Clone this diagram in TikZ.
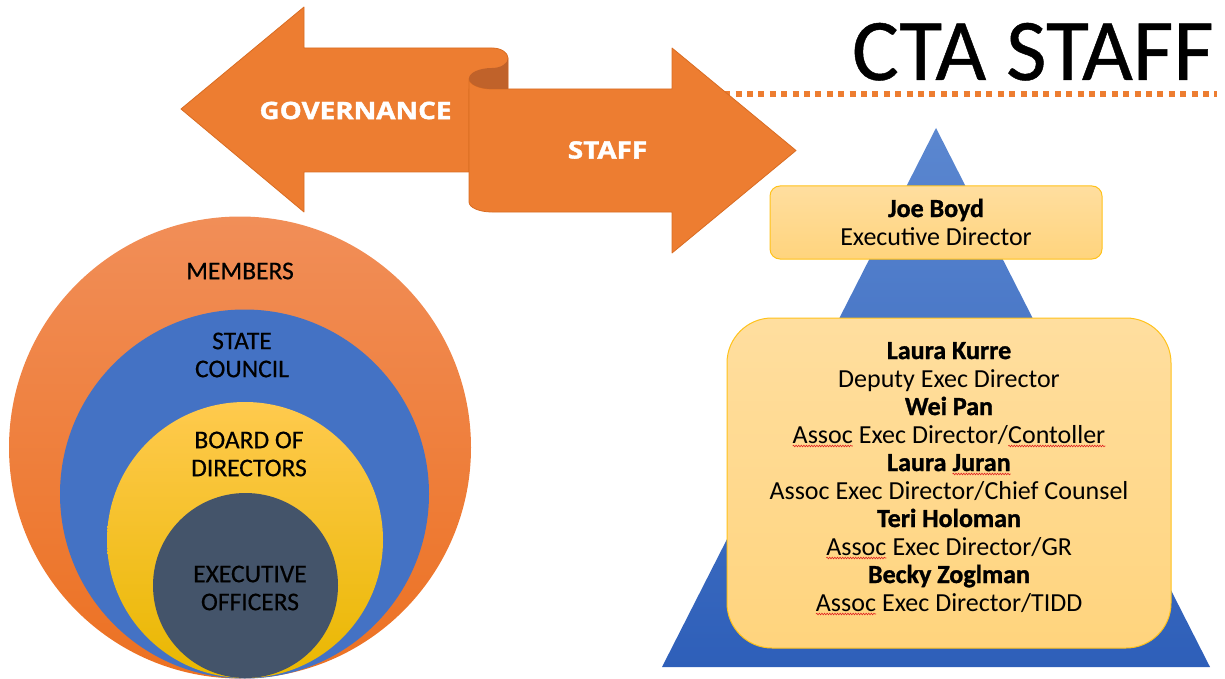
\documentclass[tikz,border=0pt]{standalone}
\usepackage{fontspec}
\setmainfont{Carlito}[BoldFeatures={FakeBold=1.2}]
\newfontfamily\heavyfont{Carlito}[FakeBold=0.5]
\newfontfamily\ribbonfont{Open Sans}[BoldFeatures={FakeBold=1.5}]
\usepackage{tikz}
\usetikzlibrary{decorations.pathmorphing}

\definecolor{ctaorange}{HTML}{ED7D31}
\definecolor{ribbonedge}{HTML}{D96C22}
\definecolor{foldorange}{HTML}{C0622A}
\definecolor{memtop}{HTML}{F18E58}
\definecolor{membot}{HTML}{EC7122}
\definecolor{councilblue}{HTML}{4472C4}
\definecolor{boardtop}{HTML}{FFCA4E}
\definecolor{boardmid}{HTML}{FFC000}
\definecolor{boardbot}{HTML}{E9B700}
\definecolor{officerslate}{HTML}{44546A}
\definecolor{pyrtop}{HTML}{5B87D0}
\definecolor{pyrbot}{HTML}{2E5FB9}
\definecolor{boxtop}{HTML}{FFDE9F}
\definecolor{boxbot}{HTML}{FFD47D}
\definecolor{boxedge}{HTML}{FFC21A}
\definecolor{spellred}{HTML}{E02020}

% red spell-check wave under a word
\newcommand{\spellmark}[1]{\tikz[baseline=(sw.base)]{\node[inner sep=0pt, outer sep=0pt] (sw) {#1};
  \draw[spellred, line width=0.6pt, decorate, decoration={snake, amplitude=0.8pt, segment length=2.6pt}]
    ([yshift=-3pt]sw.base west) -- ([yshift=-3pt]sw.base east);}}

\tikzset{
  ribbon/.style={fill=ctaorange, draw=ribbonedge, line width=0.8pt, line join=round},
  ribbonlabel/.style={font=\ribbonfont\bfseries\fontsize{24}{24}\selectfont, text=white, inner sep=0pt},
  ringlabel/.style={font=\heavyfont\fontsize{25.5}{28}\selectfont, align=center, inner sep=0pt},
  staffbox/.style={draw=boxedge, line width=1pt, top color=boxtop, bottom color=boxbot},
  namelabel/.style={anchor=base, font=\fontsize{26}{28}\selectfont\bfseries, inner sep=0pt},
  rolelabel/.style={anchor=base, font=\fontsize{26}{28}\selectfont, inner sep=0pt}
}

\begin{document}
\begin{tikzpicture}[x=1pt, y=-1pt]
\useasboundingbox (0,0) rectangle (1225,679);

% Dotted rule under the title
\draw[ctaorange, line width=6pt, dash pattern=on 6pt off 5.4pt] (690,94) -- (1217,94);

% Governance arrow (left)
\draw[ribbon] (181,109) -- (304,7) -- (304,48) -- (492,48)
  arc[start angle=-90, end angle=0, x radius=16, y radius=10]
  -- (508,89) -- (469,89) -- (469,172) -- (304,172) -- (304,212) -- cycle;

% Staff arrow (right)
\draw[ribbon] (469,78.5) -- (469,202)
  arc[start angle=180, end angle=90, x radius=23, y radius=10]
  -- (672,212) -- (672,253) -- (796,150.5) -- (672,48) -- (672,89) -- (492,89)
  arc[start angle=90, end angle=180, x radius=23, y radius=10.5] -- cycle;

% Fold of the ribbon
\fill[foldorange] (508,58) arc[start angle=0, end angle=90, x radius=16, y radius=10]
  arc[start angle=270, end angle=90, x radius=23, y radius=10.5] -- (508,89) -- cycle;

\node[ribbonlabel] (govlabel) at (355.5,110.5) {\scalebox{1.16}[1]{GOVERNANCE}};
\node[ribbonlabel] (stafflabel) at (607.5,150) {\scalebox{1.16}[1]{STAFF}};

% Title
\node[anchor=base east, font=\heavyfont\fontsize{88}{88}\selectfont, inner sep=0pt] (title) at (1214,80) {CTA STAFF};

% Governance rings
\shade[top color=memtop, bottom color=membot] (240,447.5) circle (231);
\fill[councilblue] (244.5,494) circle (184.5);
\shade[top color=boardtop, middle color=boardmid, bottom color=boardbot] (245,540) circle (138);
\fill[officerslate] (245.5,585.5) circle (92.5);

\node[ringlabel] (members) at (240,271) {MEMBERS};
\node[ringlabel] (council) at (242,355) {STATE\\COUNCIL};
\node[ringlabel] (board) at (249,454) {BOARD OF\\DIRECTORS};
\node[ringlabel] (officers) at (250,588) {EXECUTIVE\\OFFICERS};

% Staff pyramid
\shade[top color=pyrtop, bottom color=pyrbot] (936,128) -- (1210,667) -- (662,667) -- cycle;

\node[staffbox, rounded corners=10pt, minimum width=332pt, minimum height=73pt] (chiefbox) at (936,222.5) {};
\node[namelabel] (chiefname) at (936,217) {Joe Boyd};
\node[rolelabel] (chiefrole) at (936,245) {Executive Director};

\node[staffbox, rounded corners=45pt, minimum width=444pt, minimum height=330pt] (deputybox) at (949,483) {};
\foreach \who/\role [count=\i from 0] in {
    Laura Kurre/{Deputy Exec Director},
    Wei Pan/{\spellmark{Assoc} Exec Director/\spellmark{Contoller}},
    Laura \spellmark{Juran}/{Assoc Exec Director/Chief Counsel},
    Teri Holoman/{\spellmark{Assoc} Exec Director/GR},
    Becky Zoglman/{\spellmark{Assoc} Exec Director/TIDD}}{
  \node[namelabel] (name\i) at (949,{359+56*\i}) {\who};
  \node[rolelabel] (role\i) at (949,{387+56*\i}) {\role};
}

\end{tikzpicture}
\end{document}
